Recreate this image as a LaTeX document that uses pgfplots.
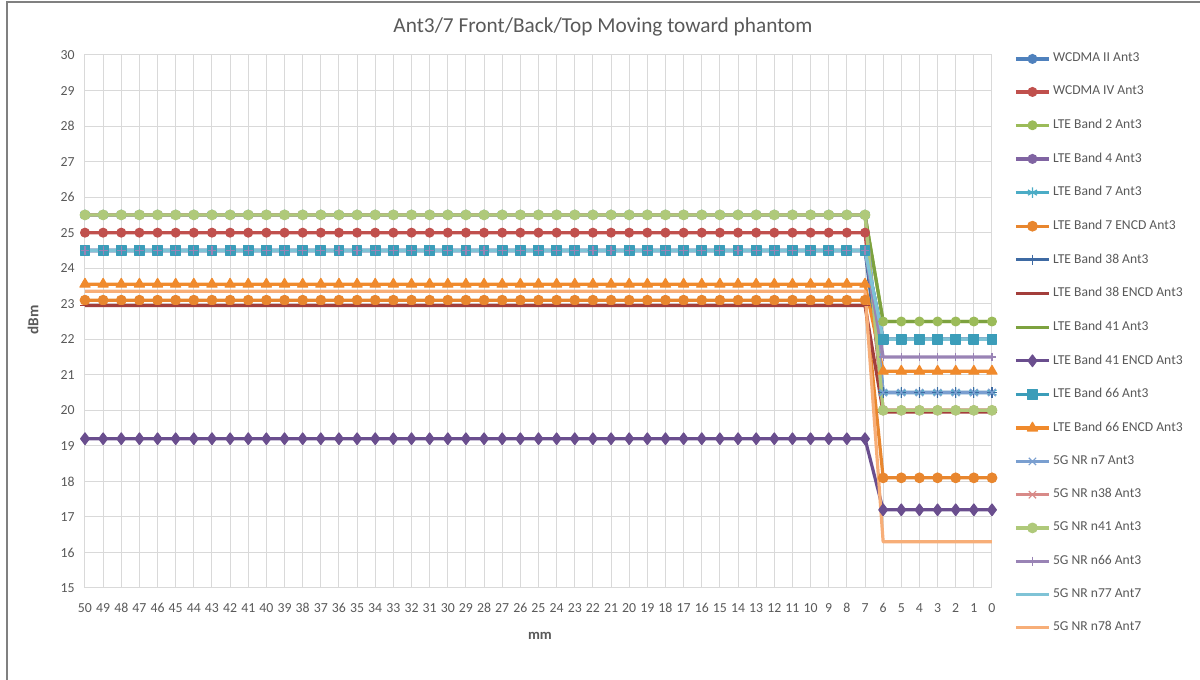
\documentclass[border=0pt]{standalone}
\usepackage{fontspec}
\setmainfont{Carlito}
\usepackage{pgfplots}
\usepackage{pgfplotstable}
\pgfplotsset{compat=1.18}

\definecolor{textgray}{HTML}{595959}
\definecolor{gridgray}{HTML}{D9D9D9}
\definecolor{framegray}{HTML}{808080}
\definecolor{c1}{HTML}{4F81BD}
\definecolor{c2}{HTML}{C0504D}
\definecolor{c3}{HTML}{9BBB59}
\definecolor{c4}{HTML}{8064A2}
\definecolor{c5}{HTML}{4BACC6}
\definecolor{c6}{HTML}{E8862E}
\definecolor{c7}{HTML}{3E6AA3}
\definecolor{c8}{HTML}{A33E3B}
\definecolor{c9}{HTML}{7DA23F}
\definecolor{c10}{HTML}{6A4E8E}
\definecolor{c11}{HTML}{3B9DB9}
\definecolor{c12}{HTML}{F08A2C}
\definecolor{c13}{HTML}{7A9FD0}
\definecolor{c14}{HTML}{D88A88}
\definecolor{c15}{HTML}{AFC97A}
\definecolor{c16}{HTML}{9983B5}
\definecolor{c17}{HTML}{7FC3D6}
\definecolor{c18}{HTML}{F7AE78}

% mm, then one column per series (legend order)
\pgfplotstableread{
mm s1 s2 s3 s4 s5 s6 s7 s8 s9 s10 s11 s12 s13 s14 s15 s16 s17 s18
50 24.5 25.0 25.5 24.5 25.5 23.1 24.5 22.95 25.5 19.2 24.5 23.55 25.5 25.5 25.5 24.5 24.5 23.35
49 24.5 25.0 25.5 24.5 25.5 23.1 24.5 22.95 25.5 19.2 24.5 23.55 25.5 25.5 25.5 24.5 24.5 23.35
48 24.5 25.0 25.5 24.5 25.5 23.1 24.5 22.95 25.5 19.2 24.5 23.55 25.5 25.5 25.5 24.5 24.5 23.35
47 24.5 25.0 25.5 24.5 25.5 23.1 24.5 22.95 25.5 19.2 24.5 23.55 25.5 25.5 25.5 24.5 24.5 23.35
46 24.5 25.0 25.5 24.5 25.5 23.1 24.5 22.95 25.5 19.2 24.5 23.55 25.5 25.5 25.5 24.5 24.5 23.35
45 24.5 25.0 25.5 24.5 25.5 23.1 24.5 22.95 25.5 19.2 24.5 23.55 25.5 25.5 25.5 24.5 24.5 23.35
44 24.5 25.0 25.5 24.5 25.5 23.1 24.5 22.95 25.5 19.2 24.5 23.55 25.5 25.5 25.5 24.5 24.5 23.35
43 24.5 25.0 25.5 24.5 25.5 23.1 24.5 22.95 25.5 19.2 24.5 23.55 25.5 25.5 25.5 24.5 24.5 23.35
42 24.5 25.0 25.5 24.5 25.5 23.1 24.5 22.95 25.5 19.2 24.5 23.55 25.5 25.5 25.5 24.5 24.5 23.35
41 24.5 25.0 25.5 24.5 25.5 23.1 24.5 22.95 25.5 19.2 24.5 23.55 25.5 25.5 25.5 24.5 24.5 23.35
40 24.5 25.0 25.5 24.5 25.5 23.1 24.5 22.95 25.5 19.2 24.5 23.55 25.5 25.5 25.5 24.5 24.5 23.35
39 24.5 25.0 25.5 24.5 25.5 23.1 24.5 22.95 25.5 19.2 24.5 23.55 25.5 25.5 25.5 24.5 24.5 23.35
38 24.5 25.0 25.5 24.5 25.5 23.1 24.5 22.95 25.5 19.2 24.5 23.55 25.5 25.5 25.5 24.5 24.5 23.35
37 24.5 25.0 25.5 24.5 25.5 23.1 24.5 22.95 25.5 19.2 24.5 23.55 25.5 25.5 25.5 24.5 24.5 23.35
36 24.5 25.0 25.5 24.5 25.5 23.1 24.5 22.95 25.5 19.2 24.5 23.55 25.5 25.5 25.5 24.5 24.5 23.35
35 24.5 25.0 25.5 24.5 25.5 23.1 24.5 22.95 25.5 19.2 24.5 23.55 25.5 25.5 25.5 24.5 24.5 23.35
34 24.5 25.0 25.5 24.5 25.5 23.1 24.5 22.95 25.5 19.2 24.5 23.55 25.5 25.5 25.5 24.5 24.5 23.35
33 24.5 25.0 25.5 24.5 25.5 23.1 24.5 22.95 25.5 19.2 24.5 23.55 25.5 25.5 25.5 24.5 24.5 23.35
32 24.5 25.0 25.5 24.5 25.5 23.1 24.5 22.95 25.5 19.2 24.5 23.55 25.5 25.5 25.5 24.5 24.5 23.35
31 24.5 25.0 25.5 24.5 25.5 23.1 24.5 22.95 25.5 19.2 24.5 23.55 25.5 25.5 25.5 24.5 24.5 23.35
30 24.5 25.0 25.5 24.5 25.5 23.1 24.5 22.95 25.5 19.2 24.5 23.55 25.5 25.5 25.5 24.5 24.5 23.35
29 24.5 25.0 25.5 24.5 25.5 23.1 24.5 22.95 25.5 19.2 24.5 23.55 25.5 25.5 25.5 24.5 24.5 23.35
28 24.5 25.0 25.5 24.5 25.5 23.1 24.5 22.95 25.5 19.2 24.5 23.55 25.5 25.5 25.5 24.5 24.5 23.35
27 24.5 25.0 25.5 24.5 25.5 23.1 24.5 22.95 25.5 19.2 24.5 23.55 25.5 25.5 25.5 24.5 24.5 23.35
26 24.5 25.0 25.5 24.5 25.5 23.1 24.5 22.95 25.5 19.2 24.5 23.55 25.5 25.5 25.5 24.5 24.5 23.35
25 24.5 25.0 25.5 24.5 25.5 23.1 24.5 22.95 25.5 19.2 24.5 23.55 25.5 25.5 25.5 24.5 24.5 23.35
24 24.5 25.0 25.5 24.5 25.5 23.1 24.5 22.95 25.5 19.2 24.5 23.55 25.5 25.5 25.5 24.5 24.5 23.35
23 24.5 25.0 25.5 24.5 25.5 23.1 24.5 22.95 25.5 19.2 24.5 23.55 25.5 25.5 25.5 24.5 24.5 23.35
22 24.5 25.0 25.5 24.5 25.5 23.1 24.5 22.95 25.5 19.2 24.5 23.55 25.5 25.5 25.5 24.5 24.5 23.35
21 24.5 25.0 25.5 24.5 25.5 23.1 24.5 22.95 25.5 19.2 24.5 23.55 25.5 25.5 25.5 24.5 24.5 23.35
20 24.5 25.0 25.5 24.5 25.5 23.1 24.5 22.95 25.5 19.2 24.5 23.55 25.5 25.5 25.5 24.5 24.5 23.35
19 24.5 25.0 25.5 24.5 25.5 23.1 24.5 22.95 25.5 19.2 24.5 23.55 25.5 25.5 25.5 24.5 24.5 23.35
18 24.5 25.0 25.5 24.5 25.5 23.1 24.5 22.95 25.5 19.2 24.5 23.55 25.5 25.5 25.5 24.5 24.5 23.35
17 24.5 25.0 25.5 24.5 25.5 23.1 24.5 22.95 25.5 19.2 24.5 23.55 25.5 25.5 25.5 24.5 24.5 23.35
16 24.5 25.0 25.5 24.5 25.5 23.1 24.5 22.95 25.5 19.2 24.5 23.55 25.5 25.5 25.5 24.5 24.5 23.35
15 24.5 25.0 25.5 24.5 25.5 23.1 24.5 22.95 25.5 19.2 24.5 23.55 25.5 25.5 25.5 24.5 24.5 23.35
14 24.5 25.0 25.5 24.5 25.5 23.1 24.5 22.95 25.5 19.2 24.5 23.55 25.5 25.5 25.5 24.5 24.5 23.35
13 24.5 25.0 25.5 24.5 25.5 23.1 24.5 22.95 25.5 19.2 24.5 23.55 25.5 25.5 25.5 24.5 24.5 23.35
12 24.5 25.0 25.5 24.5 25.5 23.1 24.5 22.95 25.5 19.2 24.5 23.55 25.5 25.5 25.5 24.5 24.5 23.35
11 24.5 25.0 25.5 24.5 25.5 23.1 24.5 22.95 25.5 19.2 24.5 23.55 25.5 25.5 25.5 24.5 24.5 23.35
10 24.5 25.0 25.5 24.5 25.5 23.1 24.5 22.95 25.5 19.2 24.5 23.55 25.5 25.5 25.5 24.5 24.5 23.35
9  24.5 25.0 25.5 24.5 25.5 23.1 24.5 22.95 25.5 19.2 24.5 23.55 25.5 25.5 25.5 24.5 24.5 23.35
8  24.5 25.0 25.5 24.5 25.5 23.1 24.5 22.95 25.5 19.2 24.5 23.55 25.5 25.5 25.5 24.5 24.5 23.35
7  24.5 25.0 25.5 24.5 25.5 23.1 24.5 22.95 25.5 19.2 24.5 23.55 25.5 25.5 25.5 24.5 24.5 23.35
6  22.0 20.0 22.5 22.0 20.5 18.1 20.5 19.95 22.5 17.2 22.0 21.1 20.5 20.0 20.0 21.5 22.0 16.3
5  22.0 20.0 22.5 22.0 20.5 18.1 20.5 19.95 22.5 17.2 22.0 21.1 20.5 20.0 20.0 21.5 22.0 16.3
4  22.0 20.0 22.5 22.0 20.5 18.1 20.5 19.95 22.5 17.2 22.0 21.1 20.5 20.0 20.0 21.5 22.0 16.3
3  22.0 20.0 22.5 22.0 20.5 18.1 20.5 19.95 22.5 17.2 22.0 21.1 20.5 20.0 20.0 21.5 22.0 16.3
2  22.0 20.0 22.5 22.0 20.5 18.1 20.5 19.95 22.5 17.2 22.0 21.1 20.5 20.0 20.0 21.5 22.0 16.3
1  22.0 20.0 22.5 22.0 20.5 18.1 20.5 19.95 22.5 17.2 22.0 21.1 20.5 20.0 20.0 21.5 22.0 16.3
0  22.0 20.0 22.5 22.0 20.5 18.1 20.5 19.95 22.5 17.2 22.0 21.1 20.5 20.0 20.0 21.5 22.0 16.3
}\datatable

\pgfplotsset{
  ser/.style={color=#1, line width=1.6pt, line join=round,
    mark options={solid, fill=#1, line width=0.6pt}},
}

\begin{document}
\begin{tikzpicture}
\useasboundingbox (0,0) rectangle (600pt,340pt);
\draw[framegray, line width=0.8pt] (3.5pt,0pt) -- (3.5pt,339pt) -- (600pt,339pt);

\node[text=textgray, font=\fontsize{10.65}{12}\selectfont] at (301.5pt,326.5pt) {Ant3/7 Front/Back/Top Moving toward phantom};
\node[text=textgray, font=\fontsize{7.6}{9}\selectfont\bfseries, rotate=90] at (16.5pt,180pt) {dBm};
\node[text=textgray, font=\fontsize{7.3}{9}\selectfont\bfseries] at (270pt,22pt) {mm};

\begin{axis}[
  at={(42.5pt,46pt)}, anchor=south west,
  scale only axis, width=453.5pt, height=266.5pt,
  x dir=reverse,
  xmin=0, xmax=50, ymin=15, ymax=30,
  xtick={0,...,50}, ytick={15,...,30},
  grid=major, grid style={gridgray, line width=0.5pt},
  axis line style={draw=gridgray, line width=0.5pt},
  major tick length=0pt,
  tick label style={text=textgray, font=\fontsize{6.9}{8}\selectfont},
  xticklabel style={inner sep=0pt, yshift=-7.5pt},
  yticklabel style={inner sep=0pt, xshift=-5pt},
  /pgf/number format/assume math mode=true,
  clip=false,
  legend cell align=left,
  legend image code/.code={\draw[mark repeat=2, mark phase=2] plot coordinates {(0pt,0pt) (8.3pt,0pt) (16.6pt,0pt)};},
  legend style={draw=none, fill=none, at={(1.0175,1.012)}, anchor=north west,
    font=\fontsize{6.8}{8}\selectfont, text=textgray,
    nodes={inner sep=0pt}, row sep=10.6pt, column sep=1.2pt},
]
\addplot[ser=c1, mark=*, mark size=2.2pt] table[x=mm, y=s1] {\datatable};
\addlegendentry{WCDMA II Ant3}
\addplot[ser=c2, mark=*, mark size=2.2pt] table[x=mm, y=s2] {\datatable};
\addlegendentry{WCDMA IV Ant3}
\addplot[ser=c3, mark=*, mark size=2.2pt] table[x=mm, y=s3] {\datatable};
\addlegendentry{LTE Band 2 Ant3}
\addplot[ser=c4, mark=*, mark size=2.2pt] table[x=mm, y=s4] {\datatable};
\addlegendentry{LTE Band 4 Ant3}
\addplot[ser=c5, mark=asterisk, mark size=2.6pt] table[x=mm, y=s5] {\datatable};
\addlegendentry{LTE Band 7 Ant3}
\addplot[ser=c6, mark=*, mark size=2.4pt] table[x=mm, y=s6] {\datatable};
\addlegendentry{LTE Band 7 ENCD Ant3}
\addplot[ser=c7, mark=+, mark size=2.6pt] table[x=mm, y=s7] {\datatable};
\addlegendentry{LTE Band 38 Ant3}
\addplot[ser=c8, mark=-, mark size=2.6pt] table[x=mm, y=s8] {\datatable};
\addlegendentry{LTE Band 38 ENCD Ant3}
\addplot[ser=c9, no marks] table[x=mm, y=s9] {\datatable};
\addlegendentry{LTE Band 41 Ant3}
\addplot[ser=c10, mark=diamond*, mark size=2.9pt] table[x=mm, y=s10] {\datatable};
\addlegendentry{LTE Band 41 ENCD Ant3}
\addplot[ser=c11, mark=square*, mark size=2.4pt] table[x=mm, y=s11] {\datatable};
\addlegendentry{LTE Band 66 Ant3}
\addplot[ser=c12, mark=triangle*, mark size=2.9pt] table[x=mm, y=s12] {\datatable};
\addlegendentry{LTE Band 66 ENCD Ant3}
\addplot[ser=c13, mark=x, mark size=2.6pt] table[x=mm, y=s13] {\datatable};
\addlegendentry{5G NR n7 Ant3}
\addplot[ser=c14, mark=x, mark size=2.6pt] table[x=mm, y=s14] {\datatable};
\addlegendentry{5G NR n38 Ant3}
\addplot[ser=c15, mark=*, mark size=2.4pt] table[x=mm, y=s15] {\datatable};
\addlegendentry{5G NR n41 Ant3}
\addplot[ser=c16, mark=+, mark size=2.2pt] table[x=mm, y=s16] {\datatable};
\addlegendentry{5G NR n66 Ant3}
\addplot[ser=c17, no marks] table[x=mm, y=s17] {\datatable};
\addlegendentry{5G NR n77 Ant7}
\addplot[ser=c18, no marks] table[x=mm, y=s18] {\datatable};
\addlegendentry{5G NR n78 Ant7}
\end{axis}
\end{tikzpicture}
\end{document}
